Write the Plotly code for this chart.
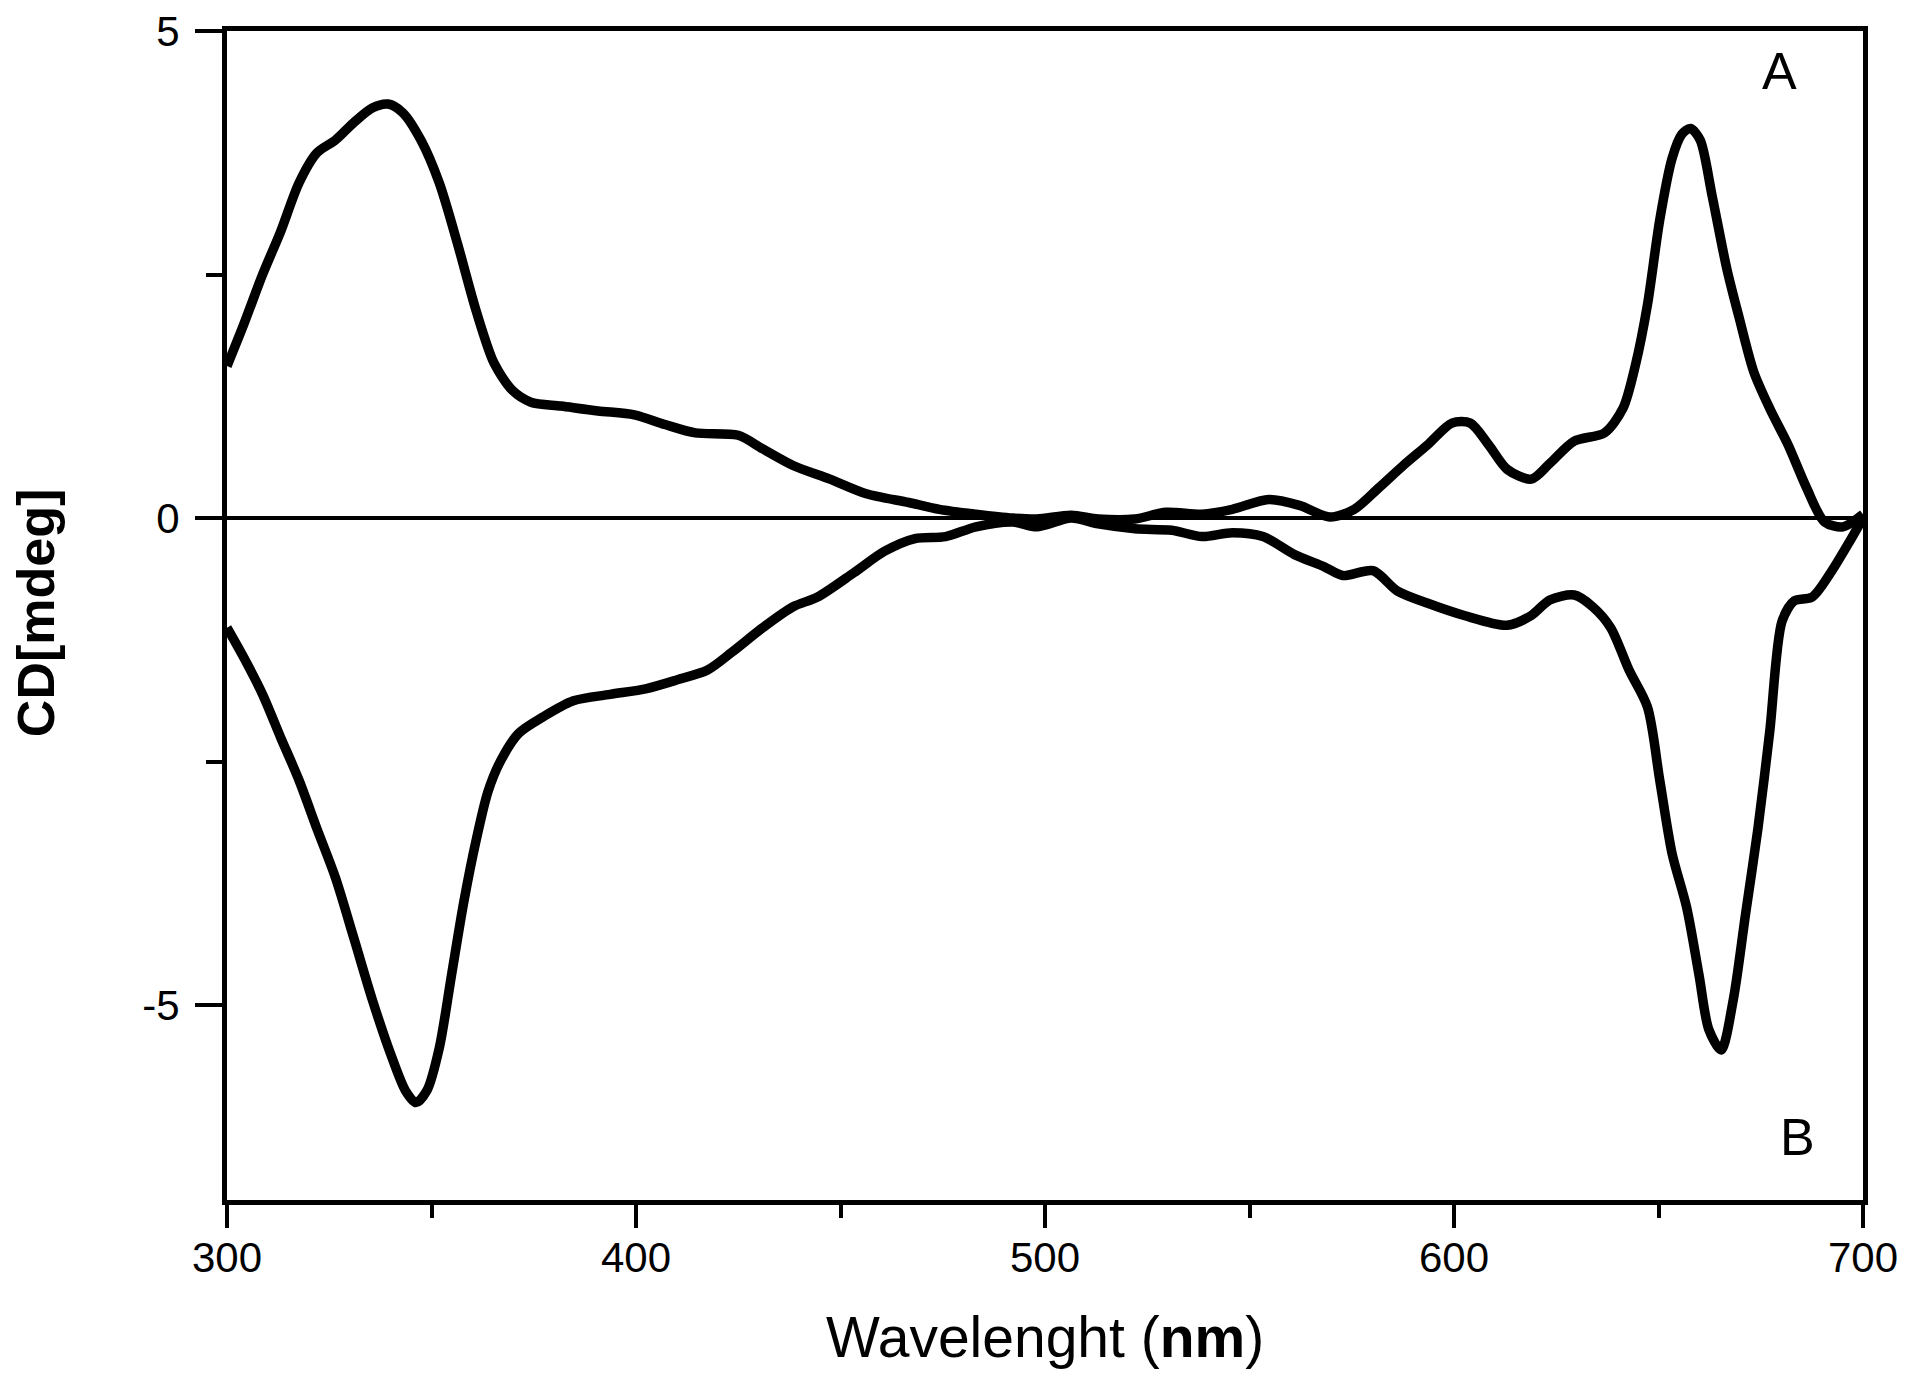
import plotly.graph_objects as go

# Curve A (upper)
wl_a = [300, 304.2, 308.7, 313.1, 317.6, 322, 326.5, 331, 335.5, 339.4, 343, 347.4, 351.9, 356.4,
        360.9, 365.3, 369.8, 374.3, 381.7, 390.7, 399.6, 407.1, 414.5, 425, 431, 438.4, 447.4,
        456.3, 466.7, 474.2, 483.1, 492.1, 498, 506.4, 513, 522, 529.5, 538.4, 545.8, 554.7,
        562.2, 569.7, 575.6, 581.6, 587.6, 593.5, 599.5, 604, 608.5, 613, 618.9, 623.4, 629.4,
        636.8, 641.3, 644.3, 647.3, 650.3, 653.3, 655.7, 657.8, 660.2, 663.1, 666.7, 669.7,
        673.3, 677.2, 681.7, 686.2, 690.6, 695.1, 700]
cd_a = [1.56, 2.0, 2.5, 2.94, 3.44, 3.75, 3.88, 4.06, 4.21, 4.25, 4.16, 3.88, 3.44, 2.81,
        2.13, 1.59, 1.31, 1.19, 1.15, 1.10, 1.06, 0.96, 0.875, 0.85, 0.71, 0.54, 0.40,
        0.25, 0.16, 0.09, 0.04, 0.0, -0.01, 0.03, -0.01, -0.01, 0.06, 0.04, 0.09, 0.19,
        0.13, 0.01, 0.09, 0.31, 0.54, 0.75, 0.975, 0.975, 0.75, 0.5, 0.4, 0.56, 0.79,
        0.875, 1.125, 1.56, 2.19, 3.06, 3.69, 3.94, 4.0, 3.88, 3.31, 2.56, 2.06,
        1.5, 1.125, 0.75, 0.31, -0.04, -0.09, 0.04]

# Curve B (lower)
wl_b = [300, 304.2, 308.7, 313.1, 317.6, 322, 326.5, 331, 335.5, 340, 343.6, 346.2, 348.9, 351.9,
        354.9, 357.9, 360.9, 363.8, 366.8, 371.3, 377.3, 384.7, 393.7, 402.6, 410.1, 417.5,
        423.5, 431, 438.4, 444.4, 453.3, 460.8, 468.2, 475.7, 483.1, 492.1, 498, 506.4, 513,
        522, 531, 538.4, 545.8, 553.3, 561, 568.3, 572.8, 580.2, 586.2, 593.6, 602.5, 613,
        618.9, 623.4, 629.4, 633.9, 638.3, 642.8, 647.3, 650.3, 653.3, 656.9, 659.9, 662.3,
        665.3, 668.3, 671.3, 674.3, 677.2, 680.2, 683.2, 687.6, 692.1, 696.6, 700]
cd_b = [-1.125, -1.44, -1.81, -2.25, -2.69, -3.19, -3.69, -4.31, -4.94, -5.5, -5.875, -6.0, -5.875, -5.44,
        -4.69, -3.94, -3.31, -2.81, -2.5, -2.21, -2.04, -1.875, -1.81, -1.75, -1.66, -1.56,
        -1.375, -1.125, -0.91, -0.81, -0.56, -0.34, -0.21, -0.19, -0.09, -0.04, -0.09, 0.0, -0.06,
        -0.11, -0.125, -0.19, -0.15, -0.19, -0.375, -0.5, -0.59, -0.54, -0.75, -0.875, -1.0, -1.1,
        -1.0, -0.84, -0.79, -0.91, -1.125, -1.56, -1.94, -2.69, -3.44, -4.0, -4.69, -5.25,
        -5.46, -4.94, -4.06, -3.19, -2.19, -1.06, -0.85, -0.81, -0.56, -0.25, 0.0]

x_ticks = [300, 400, 500, 600, 700]
y_ticks = [-5, 0, 5]
y_tick_text = ["-5", "0", "5"]

FONT = "Liberation Sans, Arial, sans-serif"

fig = go.Figure()
for wl, cd in ((wl_a, cd_a), (wl_b, cd_b)):
    fig.add_trace(go.Scatter(x=wl, y=cd, mode="lines",
                             line=dict(color="black", width=9.5, shape="spline", smoothing=0.8),
                             showlegend=False, hoverinfo="skip"))

fig.update_layout(
    width=1904, height=1370,
    margin=dict(l=219, r=49, t=23, b=178),
    paper_bgcolor="white", plot_bgcolor="white",
    font=dict(family=FONT, color="black", size=42),
    xaxis=dict(range=[300, 700], tickvals=x_ticks, ticks="outside", ticklen=23, tickwidth=4,
               tickcolor="black", showline=True, linewidth=5, linecolor="black", mirror=True,
               showgrid=False, zeroline=False, automargin=False, ticklabeloverflow="allow",
               ticklabelstandoff=-6, tickfont=dict(size=42, family=FONT),
               minor=dict(dtick=50, ticks="outside", ticklen=13, tickwidth=4, tickcolor="black",
                          showgrid=False)),
    yaxis=dict(range=[-7, 5], tickvals=y_ticks, ticktext=y_tick_text, ticks="outside", ticklen=27,
               tickwidth=4, tickcolor="black", showline=True, linewidth=5, linecolor="black",
               mirror=True, showgrid=False, zeroline=True, zerolinecolor="black", zerolinewidth=3.5,
               automargin=False, ticklabeloverflow="allow", ticklabelstandoff=7,
               tickfont=dict(size=42, family=FONT),
               minor=dict(dtick=2.5, ticks="outside", ticklen=16, tickwidth=4, tickcolor="black",
                          showgrid=False)),
    annotations=[
        dict(text="Wavelenght (<b>nm</b>)", xref="paper", yref="paper", x=0.5, y=0,
             yshift=-137, xanchor="center", yanchor="middle", showarrow=False,
             font=dict(size=57, family=FONT)),
        dict(text="<b>CD[mdeg]</b>", xref="paper", yref="paper", x=0, y=0.502, xshift=-191,
             xanchor="center", yanchor="middle", textangle=-90, showarrow=False,
             font=dict(size=52, family=FONT)),
        dict(text="A", x=679.7, y=4.59, xref="x", yref="y", showarrow=False,
             font=dict(size=52, family=FONT)),
        dict(text="B", x=684, y=-6.35, xref="x", yref="y", showarrow=False,
             font=dict(size=52, family=FONT)),
    ],
)

fig.write_html("out.html")
